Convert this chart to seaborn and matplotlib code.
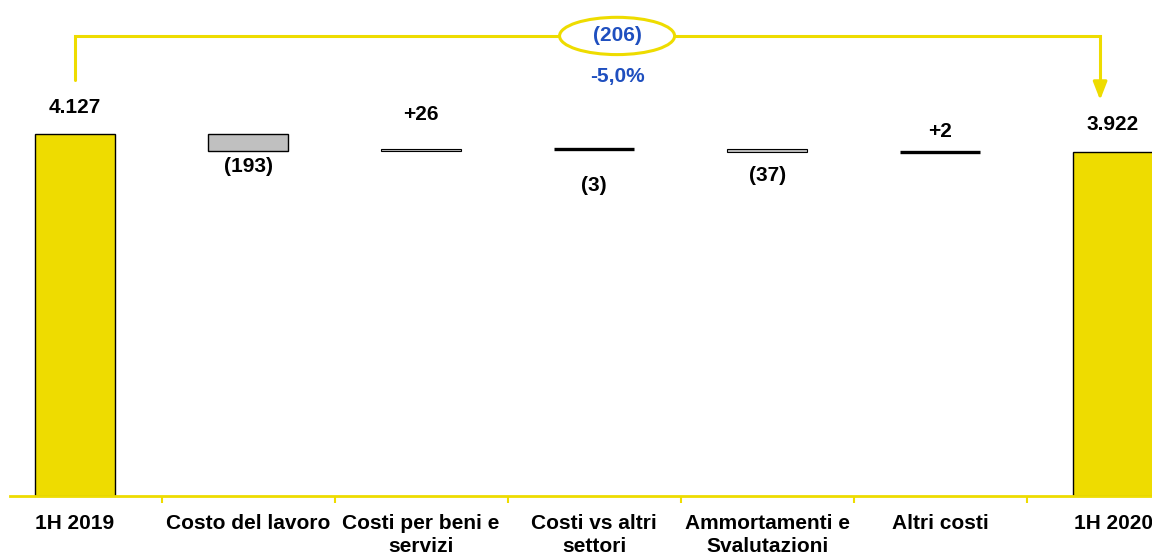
import matplotlib
matplotlib.use("Agg")
import matplotlib.pyplot as plt
from matplotlib.patches import Ellipse
import seaborn as sns
import pandas as pd

# Cost bridge 1H 2019 -> 1H 2020 (millions)
categories = ["1H 2019", "Costo del lavoro", "Costi per beni e\nservizi",
              "Costi vs altri\nsettori", "Ammortamenti e\nSvalutazioni",
              "Altri costi", "1H 2020"]
start_total = 4127
deltas = [-193, 26, -3, -37, 2]
end_total = 3922
value_labels = ["4.127", "(193)", "+26", "(3)", "(37)", "+2", "3.922"]
change_label = "(206)"
change_pct_label = "-5,0%"

YELLOW = "#EEDC00"
GREY = "#C0C0C0"
BLUE = "#1F4FBF"

# Floating bar geometry of the waterfall
bottoms, heights = [0], [start_total]
level = start_total
for d in deltas:
    bottoms.append(min(level, level + d))
    heights.append(abs(d))
    level += d
bottoms.append(0)
heights.append(end_total)

df = pd.DataFrame({"cat": categories, "h": heights})

sns.set_theme(style="white")
plt.rcParams["font.family"] = ["Liberation Sans", "DejaVu Sans"]

fig = plt.figure(figsize=(11.52, 5.54), dpi=100)
ax = fig.add_axes([10 / 1152, 58 / 554, 1 - 10 / 1152, 1 - 58 / 554])

sns.barplot(data=df, x="cat", y="h", color=GREY, width=0.465,
            bottom=bottoms, edgecolor="black", linewidth=1.0,
            saturation=1, ax=ax)
for i, p in enumerate(ax.patches):
    if i in (0, len(categories) - 1):
        p.set_facecolor(YELLOW)
    elif heights[i] < 10:
        # very small moves render as a solid stroke
        p.set_linewidth(2.4)
    elif heights[i] < 60:
        p.set_linewidth(0.8)

ax.set_xlim(-0.376, 6.225)
ax.set_ylim(0, 5655)

# Value labels: above for increases/totals, below for decreases
px = 5655 / 496  # data units per pixel
offsets_px = [27, 16, 34, 37, 23, 21, 28]
FS = 15
for i, (b, h, lab, off) in enumerate(zip(bottoms, heights, value_labels, offsets_px)):
    is_down = 0 < i < len(categories) - 1 and deltas[i - 1] < 0
    y = b - off * px if is_down else b + h + off * px
    ax.text(i, y, lab, ha="center", va="center", fontsize=FS,
            fontweight="bold", color="black")

# Axis styling
for s in ("top", "right", "left"):
    ax.spines[s].set_visible(False)
ax.spines["bottom"].set_color(YELLOW)
ax.spines["bottom"].set_linewidth(2)
ax.set_yticks([])
ax.set_xlabel("")
ax.set_ylabel("")
ax.set_xticks(range(len(categories)))
ax.set_xticklabels(categories, fontsize=FS, fontweight="bold", color="black",
                   linespacing=1.25)
ax.tick_params(axis="x", length=0, pad=13)
ax.set_xticks([i + 0.5 for i in range(len(categories) - 1)], minor=True)
ax.tick_params(axis="x", which="minor", length=5, width=1.5, color=YELLOW,
               direction="out", bottom=True)
ax.grid(False)

# Overall change bracket from first to last total
y_top = 5245
x_left, x_right = 0.0, 5.925
ax.plot([x_left, x_left, x_right, x_right], [4743, y_top, y_top, 4700],
        color=YELLOW, lw=2.2, solid_joinstyle="miter", clip_on=False)
ax.annotate("", xy=(x_right, 4515), xytext=(x_right, 4720),
            arrowprops=dict(arrowstyle="-|>,head_length=0.9,head_width=0.35",
                            color=YELLOW, lw=2.2, shrinkA=0, shrinkB=0))
xm = 3.133
ax.add_patch(Ellipse((xm, y_top), width=0.665, height=425,
                     facecolor="white", edgecolor=YELLOW, lw=2.2, zorder=5))
ax.text(xm, y_top, change_label, ha="center", va="center", fontsize=FS,
        fontweight="bold", color=BLUE, zorder=6)
ax.text(xm, 4778, change_pct_label, ha="center", va="center", fontsize=FS,
        fontweight="bold", color=BLUE)

fig.savefig("out.png", dpi=100)
